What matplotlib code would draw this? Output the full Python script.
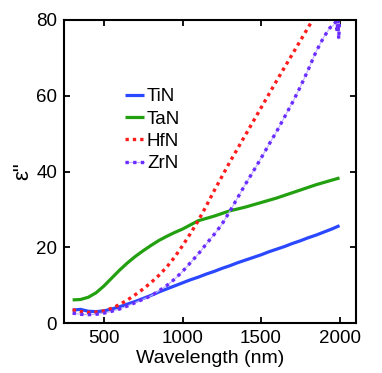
import matplotlib
matplotlib.use("Agg")
import matplotlib.pyplot as plt

plt.rcParams['font.family'] = ['Liberation Sans', 'DejaVu Sans']

wl = [300, 350, 400, 450, 500, 550, 600, 650, 700, 750, 800, 850, 900, 950,
      1000, 1050, 1100, 1150, 1200, 1250, 1300, 1350, 1400, 1450, 1500, 1550,
      1600, 1650, 1700, 1750, 1800, 1850, 1900, 1950, 2000]

tin = [3.4, 3.6, 3.1, 3.0, 3.2, 3.7, 4.3, 5.0, 5.7, 6.5, 7.3, 8.2, 9.0, 9.8,
       10.6, 11.4, 12.1, 12.9, 13.6, 14.4, 15.1, 15.9, 16.6, 17.3, 18.0, 18.8,
       19.5, 20.2, 21.0, 21.7, 22.5, 23.2, 24.0, 24.8, 25.7]

tan = [6.1, 6.2, 6.8, 8.0, 9.8, 11.9, 14.0, 15.9, 17.6, 19.1, 20.5, 21.8, 22.9, 23.9,
       24.8, 25.9, 27.0, 27.6, 28.2, 28.9, 29.6, 30.1, 30.6, 31.2, 31.8, 32.4,
       33.0, 33.7, 34.4, 35.1, 35.8, 36.5, 37.1, 37.7, 38.3]

hfn = [3.5, 3.0, 2.8, 2.9, 3.2, 3.9, 4.9, 6.1, 7.5, 9.0, 10.7, 12.6, 14.8, 17.4,
       20.4, 23.6, 27.0, 30.8, 34.8, 38.6, 42.4, 46.0, 49.6, 53.2, 56.8, 60.4,
       64.0, 67.5, 71.0, 74.5, 78.0, 81.5, 85.0, 88.5, 92.0]

zr_wl = [300, 350, 400, 450, 500, 550, 600, 650, 700, 750, 800, 850, 900, 950,
         1000, 1050, 1100, 1150, 1200, 1250, 1300, 1350, 1400, 1450, 1500, 1550,
         1600, 1650, 1700, 1750, 1800, 1850, 1900, 1940, 1960, 1975, 1985, 1990,
         1995, 2000]
zrn = [2.6, 2.3, 2.2, 2.3, 2.6, 3.1, 3.7, 4.5, 5.4, 6.3, 7.2, 8.5, 9.9, 11.6,
       13.6, 15.9, 18.2, 20.8, 23.3, 26.0, 29.4, 33.0, 36.6, 40.0, 43.5, 47.1,
       50.6, 54.4, 58.2, 62.3, 66.8, 71.6, 75.5, 78.0, 78.5, 79.5, 77.0, 80.0,
       75.0, 79.5]

xticks = [500, 1000, 1500, 2000]
yticks = [0, 20, 40, 60, 80]

fig = plt.figure(figsize=(3.82, 3.73), dpi=100)
ax = fig.add_axes([64/382, 1-323/373, (356-64)/382, (323-20)/373])

c_tin = '#2a48ff'
c_tan = '#22a010'
c_hfn = '#ff1c1c'
c_zrn = '#6a2cff'

l1, = ax.plot(wl, tin, color=c_tin, lw=2.3, label='TiN', solid_capstyle='butt')
l2, = ax.plot(wl, tan, color=c_tan, lw=2.3, label='TaN', solid_capstyle='butt')
l3, = ax.plot(wl, hfn, color=c_hfn, lw=2.4, linestyle=(0, (1.0, 1.2)),
              label='HfN', dash_capstyle='butt')
l4a, = ax.plot(zr_wl, zrn, color='#c0b0ff', lw=0.8)
l4, = ax.plot(zr_wl, zrn, color=c_zrn, lw=2.4, linestyle=(0, (1.0, 1.3)),
              dash_capstyle='butt')

ax.set_xlim(245, 2105)
ax.set_ylim(0, 80)
ax.set_xticks(xticks)
ax.set_yticks(yticks)
ax.tick_params(direction='in', top=True, right=True, length=4, width=1.3,
               labelsize=13.5, pad=5)
for s in ax.spines.values():
    s.set_linewidth(1.5)

ax.set_xlabel('Wavelength (nm)', fontsize=14, labelpad=2)
ax.set_ylabel('ε"', fontsize=16, labelpad=2)

leg = ax.legend([l1, l2, l3, (l4a, l4)], ['TiN', 'TaN', 'HfN', 'ZrN'],
                loc='upper left', bbox_to_anchor=(0.21, 0.775), frameon=False,
                fontsize=13.5, handlelength=1.0, handletextpad=0.15,
                labelspacing=0.28, borderpad=0, borderaxespad=0)

fig.savefig('out.png', dpi=100)
